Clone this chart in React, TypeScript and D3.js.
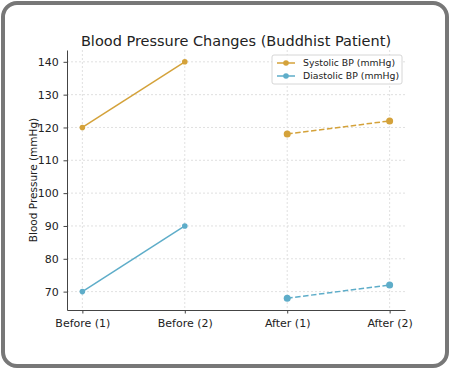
import * as React from "react"
import * as d3 from "d3"

const categories = ["Before (1)", "Before (2)", "After (1)", "After (2)"]
const systolicBefore = [120, 140]
const systolicAfter = [118, 122]
const diastolicBefore = [70, 90]
const diastolicAfter = [68, 72]
const yTicks = [70, 80, 90, 100, 110, 120, 130, 140]

const seriesNames = ["Systolic BP (mmHg)", "Diastolic BP (mmHg)"]
const colors = ["#d4a23a", "#5eadc9"]

const W = 450
const H = 369
const font = "DejaVu Sans, sans-serif"

export default function App(): React.JSX.Element {
  const ref = React.useRef<SVGSVGElement>(null)

  React.useEffect(() => {
    const svg = d3.select(ref.current)
    svg.selectAll("*").remove()

    const margin = { top: 50, right: 45, bottom: 59, left: 67 }
    const w = W - margin.left - margin.right
    const h = H - margin.top - margin.bottom

    // outer frame
    svg
      .append("rect")
      .attr("x", 3)
      .attr("y", 3)
      .attr("width", W - 6)
      .attr("height", H - 6)
      .attr("rx", 14)
      .attr("fill", "#fff")
      .attr("stroke", "#777")
      .attr("stroke-width", 4)

    const g = svg.append("g").attr("transform", `translate(${margin.left},${margin.top})`)

    const x = d3.scaleLinear().domain([-0.15, 3.15]).range([0, w])
    const y = d3.scaleLinear().domain([64.4, 143.6]).range([h, 0])

    // grid
    g.selectAll(".gx")
      .data(categories)
      .join("line")
      .attr("x1", (_d, i) => x(i))
      .attr("x2", (_d, i) => x(i))
      .attr("y1", 0)
      .attr("y2", h)
      .attr("stroke", "#d8d8d8")
      .attr("stroke-width", 0.8)
      .attr("stroke-dasharray", "2,2")
    g.selectAll(".gy")
      .data(yTicks)
      .join("line")
      .attr("x1", 0)
      .attr("x2", w)
      .attr("y1", (d) => y(d))
      .attr("y2", (d) => y(d))
      .attr("stroke", "#d8d8d8")
      .attr("stroke-width", 0.8)
      .attr("stroke-dasharray", "2,2")

    // axes
    const xAxis = g
      .append("g")
      .attr("transform", `translate(0,${h})`)
      .call(
        d3
          .axisBottom(x)
          .tickValues([0, 1, 2, 3])
          .tickFormat((d) => categories[d as number])
          .tickSize(3.5)
          .tickSizeOuter(0)
      )
    const yAxis = g.append("g").call(d3.axisLeft(y).tickValues(yTicks).tickSize(3.5).tickSizeOuter(0))

    for (const ax of [xAxis, yAxis]) {
      ax.select(".domain").attr("stroke", "#444").attr("stroke-width", 1)
      ax.selectAll(".tick line").attr("stroke", "#444")
      ax.selectAll(".tick text")
        .attr("font-family", font)
        .attr("font-size", 11)
        .attr("fill", "#222")
    }
    xAxis.selectAll(".tick text").attr("dy", "0.95em")
    yAxis.selectAll(".tick text").attr("dx", "-0.15em")

    // lines
    const line = d3
      .line<[number, number]>()
      .x((d) => x(d[0]))
      .y((d) => y(d[1]))

    const series = [
      { before: systolicBefore, after: systolicAfter, color: colors[0] },
      { before: diastolicBefore, after: diastolicAfter, color: colors[1] },
    ]

    series.forEach((s) => {
      const b = s.before.map((v, i) => [i, v] as [number, number])
      const a = s.after.map((v, i) => [i + 2, v] as [number, number])
      g.append("path")
        .attr("d", line(b))
        .attr("fill", "none")
        .attr("stroke", s.color)
        .attr("stroke-width", 1.5)
      g.append("path")
        .attr("d", line(a))
        .attr("fill", "none")
        .attr("stroke", s.color)
        .attr("stroke-width", 1.5)
        .attr("stroke-dasharray", "5.5,2.5")
      g.selectAll(null)
        .data(b)
        .join("circle")
        .attr("cx", (d) => x(d[0]))
        .attr("cy", (d) => y(d[1]))
        .attr("r", 2.8)
        .attr("fill", s.color)
      g.selectAll(null)
        .data(a)
        .join("circle")
        .attr("cx", (d) => x(d[0]))
        .attr("cy", (d) => y(d[1]))
        .attr("r", 3.5)
        .attr("fill", s.color)
    })

    // title
    svg
      .append("text")
      .attr("x", margin.left + w / 2)
      .attr("y", 46)
      .attr("text-anchor", "middle")
      .attr("font-family", font)
      .attr("font-size", 14.5)
      .attr("fill", "#222")
      .text("Blood Pressure Changes (Buddhist Patient)")

    // y label
    svg
      .append("text")
      .attr("transform", `translate(37,${margin.top + h / 2}) rotate(-90)`)
      .attr("text-anchor", "middle")
      .attr("font-family", font)
      .attr("font-size", 10.5)
      .attr("fill", "#222")
      .text("Blood Pressure (mmHg)")

    // legend
    const lg = svg.append("g").attr("transform", "translate(272,55)")
    lg.append("rect")
      .attr("width", 130)
      .attr("height", 29)
      .attr("rx", 2)
      .attr("fill", "#fff")
      .attr("fill-opacity", 0.85)
      .attr("stroke", "#ccc")
      .attr("stroke-width", 0.8)
    seriesNames.forEach((name, i) => {
      const yy = 8 + i * 13
      lg.append("line")
        .attr("x1", 5)
        .attr("x2", 23)
        .attr("y1", yy)
        .attr("y2", yy)
        .attr("stroke", colors[i])
        .attr("stroke-width", 1.5)
      lg.append("circle").attr("cx", 14).attr("cy", yy).attr("r", 2.8).attr("fill", colors[i])
      lg.append("text")
        .attr("x", 31)
        .attr("y", yy)
        .attr("dy", "0.35em")
        .attr("font-family", font)
        .attr("font-size", 9.3)
        .attr("fill", "#222")
        .text(name)
    })
  }, [])

  return (
    <svg
      ref={ref}
      width={W}
      height={H}
      style={{ position: "absolute", left: 0, top: 0 }}
    ></svg>
  )
}
